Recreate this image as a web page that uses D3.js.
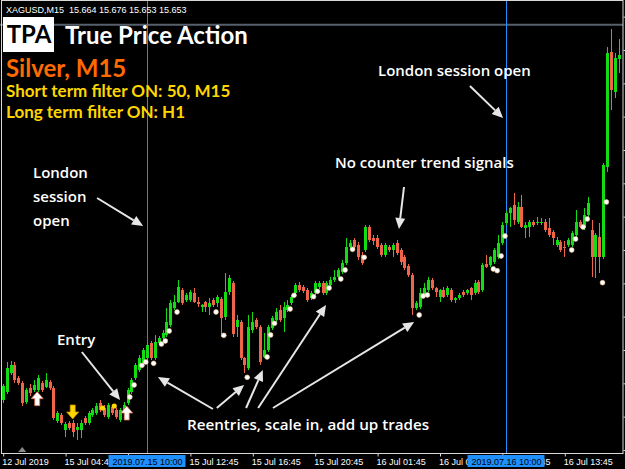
<!DOCTYPE html>
<html>
<head>
<meta charset="utf-8">
<script src="https://cdn.jsdelivr.net/npm/d3@7"></script>
<style>
  html, body { margin: 0; padding: 0; background: #000; }
  svg { display: block; }
</style>
</head>
<body>
<svg id="chart"></svg>
<script>
// XAGUSD M15 candles, one entry per bar (bar 0 = 12 Jul 2019 label)
const opens = [15.145,15.157,15.1855,15.1975,15.178,15.1705,15.142,15.163,15.16,15.16,15.1705,15.1645,15.172,15.163,15.1135,15.1225,15.10,15.1105,15.1105,15.10,
15.10,15.118,15.1105,15.1225,15.1255,15.1405,15.133,15.1195,15.1345,15.13,15.115,15.13,15.1405,15.157,15.178,15.19,15.2005,15.208,15.2305,15.208,
15.2305,15.238,15.2425,15.2575,15.283,15.292,15.31,15.295,15.295,15.3055,15.292,15.2845,15.292,15.2845,15.295,15.2905,15.2965,15.2695,15.307,15.3205,
15.2545,15.262,15.208,15.193,15.25,15.265,15.2545,15.2095,15.22,15.253,15.265,15.28,15.268,15.28,15.2905,15.3055,15.3175,15.3145,15.31,15.298,
15.3055,15.3145,15.3205,15.3055,15.3175,15.325,15.3295,15.337,15.3505,15.3745,15.385,15.3775,15.3625,15.37,15.4045,15.388,15.388,15.3775,15.3625,15.3745,
15.37,15.3805,15.37,15.3595,15.346,15.3325,15.283,15.2845,15.3025,15.31,15.325,15.313,15.2995,15.31,15.3025,15.31,15.295,15.298,15.307,15.3055,
15.313,15.3055,15.322,15.31,15.349,15.3475,15.352,15.3595,15.3805,15.4105,15.4255,15.4375,15.412,15.4345,15.403,15.4045,15.412,15.4105,15.4105,15.412,
15.403,15.397,15.3775,15.382,15.3745,15.3775,15.3775,15.3925,15.412,15.403,15.4225,15.40,15.3595,15.3895,15.3595,15.4945,15.667,15.607,15.6565];
const highs = [15.169,15.202,15.2035,15.202,15.181,15.1735,15.163,15.169,15.175,15.1825,15.1735,15.1855,15.175,15.166,15.1285,15.1255,15.112,15.1135,15.115,15.1105,
15.115,15.121,15.1285,15.133,15.1405,15.145,15.1375,15.1405,15.1375,15.133,15.133,15.142,15.163,15.178,15.2005,15.2125,15.223,15.232,15.2335,15.2425,
15.241,15.25,15.283,15.295,15.3025,15.325,15.313,15.3055,15.31,15.313,15.2995,15.289,15.2935,15.298,15.298,15.3025,15.2995,15.3355,15.3325,15.3235,
15.2725,15.265,15.2095,15.2725,15.277,15.268,15.2575,15.2455,15.2575,15.271,15.283,15.2875,15.292,15.295,15.3025,15.3205,15.322,15.3175,15.313,15.3085,
15.3235,15.3235,15.3235,15.3235,15.3295,15.34,15.343,15.355,15.388,15.385,15.388,15.382,15.367,15.4075,15.4075,15.3925,15.3925,15.3805,15.3805,15.3775,
15.3805,15.385,15.373,15.3625,15.349,15.3355,15.2935,15.313,15.3205,15.3295,15.328,15.3145,15.3115,15.3145,15.316,15.313,15.2995,15.3055,15.31,15.3115,
15.3145,15.325,15.325,15.3505,15.3625,15.361,15.373,15.3925,15.412,15.4285,15.4345,15.4555,15.442,15.4525,15.412,15.415,15.415,15.4195,15.418,15.4165,
15.418,15.40,15.3895,15.385,15.3835,15.388,15.3985,15.43,15.415,15.433,15.4495,15.415,15.3955,15.4105,15.5005,15.6745,15.7015,15.6655,15.6865];
const lows = [15.1405,15.154,15.1825,15.1705,15.1675,15.136,15.139,15.151,15.157,15.157,15.157,15.163,15.16,15.115,15.1105,15.1075,15.0895,15.10,15.0895,15.085,
15.088,15.1075,15.1075,15.1195,15.1225,15.127,15.1195,15.1165,15.1225,15.1165,15.112,15.127,15.1375,15.154,15.175,15.187,15.1975,15.205,15.205,15.205,
15.2275,15.235,15.2395,15.2545,15.28,15.2905,15.2875,15.292,15.292,15.2905,15.2845,15.277,15.277,15.2725,15.2845,15.2845,15.2395,15.265,15.3025,15.2395,
15.2395,15.205,15.1855,15.19,15.2455,15.2515,15.1975,15.208,15.217,15.25,15.262,15.262,15.247,15.277,15.2875,15.3025,15.307,15.3055,15.292,15.295,
15.3025,15.3115,15.3025,15.3025,15.3145,15.322,15.3265,15.334,15.3475,15.37,15.3715,15.355,15.3475,15.367,15.382,15.3775,15.3715,15.3595,15.3595,15.367,
15.3595,15.3625,15.3475,15.34,15.3295,15.2725,15.28,15.2815,15.2995,15.307,15.31,15.2995,15.292,15.298,15.2995,15.292,15.2905,15.295,15.2995,15.3025,
15.295,15.3025,15.304,15.307,15.343,15.3445,15.349,15.3565,15.3775,15.4075,15.4045,15.4075,15.409,15.403,15.388,15.3895,15.4045,15.4075,15.4075,15.397,
15.3895,15.3775,15.3745,15.367,15.3595,15.3745,15.3745,15.3895,15.403,15.40,15.4195,15.3295,15.328,15.3355,15.3565,15.487,15.58,15.598,15.6355];
const closes = [15.166,15.193,15.1975,15.175,15.1705,15.1405,15.16,15.1555,15.1675,15.178,15.16,15.175,15.163,15.118,15.1255,15.1105,15.109,15.103,15.097,15.1045,
15.1105,15.1105,15.1255,15.13,15.136,15.13,15.1225,15.1375,15.1255,15.1195,15.13,15.1375,15.16,15.175,15.1975,15.208,15.22,15.2275,15.208,15.232,
15.238,15.2455,15.262,15.2905,15.292,15.3145,15.2905,15.3025,15.307,15.292,15.289,15.2875,15.2845,15.2905,15.2875,15.2995,15.268,15.307,15.328,15.244,
15.265,15.208,15.1975,15.2545,15.262,15.2545,15.202,15.22,15.2545,15.268,15.277,15.265,15.2845,15.2875,15.2995,15.3175,15.31,15.3085,15.295,15.3055,
15.3205,15.3205,15.3055,15.3205,15.325,15.3295,15.34,15.3505,15.3745,15.3805,15.3745,15.3595,15.3505,15.4045,15.385,15.3835,15.3745,15.3625,15.3775,15.37,
15.3775,15.3655,15.352,15.343,15.3325,15.283,15.2905,15.3055,15.313,15.325,15.313,15.307,15.31,15.2995,15.313,15.295,15.298,15.3025,15.3025,15.31,
15.3025,15.3205,15.307,15.3475,15.3445,15.3595,15.37,15.3805,15.4075,15.4255,15.433,15.415,15.4345,15.4045,15.4075,15.412,15.4075,15.412,15.412,15.40,
15.3925,15.388,15.385,15.37,15.373,15.385,15.3955,15.412,15.4045,15.4225,15.4405,15.3595,15.3925,15.3595,15.4975,15.6655,15.61,15.658,15.6625];

// time axis
const tickBars = [0, 16, 32, 48, 64, 80, 96, 112, 128, 144];
const tickLabels = ["12 Jul 2019", "15 Jul 04:45", "15 Jul 08:45", "15 Jul 12:45", "15 Jul 16:45",
                    "15 Jul 20:45", "16 Jul 01:45", "16 Jul 05:45", "16 Jul 09:45", "16 Jul 13:45"];
const priceTicks = [15.72, 15.67, 15.62, 15.57, 15.52, 15.47, 15.42, 15.37, 15.32, 15.27, 15.22, 15.17, 15.12, 15.07];

// London session open lines
const sessionBars = [37, 129];
const sessionLabels = ["2019.07.15 10:00", "2019.07.16 10:00"];
const levelPrice = 15.708;

// signals
const dotBars = [32.6,33.7,35.7,36.7,38.7,40.7,41.7,42.7,44.7,54.7,56.7,62.7,67.8,68.7,69.7,73.7,74.7,79.7,80.7,83.7,
                 86.7,87.8,89.7,92.7,106.8,107.8,108.9,125.8,126.8,127.8,128.8,145.9,146.9,148.8,149.9,153.8,154.8];
const dotPrices = [15.1495,15.1675,15.197,15.202,15.200,15.229,15.2335,15.2485,15.277,15.277,15.242,15.179,15.2095,15.2425,15.260,15.2815,15.302,15.300,15.308,15.313,
                   15.3265,15.340,15.371,15.359,15.2725,15.301,15.3025,15.3415,15.339,15.361,15.391,15.370,15.3865,15.4045,15.4165,15.321,15.442];
const yellowDotBars = [25.6, 28.6];
const yellowDotPrices = [15.133, 15.136];
const upArrowBars = [8.85, 31.8];
const upArrowPrices = [15.1575, 15.136];
const downArrowBars = [17.95];
const downArrowPrices = [15.1165];

const symbol = "XAGUSD,M15";
const lastBar = [15.664, 15.676, 15.653, 15.653];

class CandleChart {

  constructor(_config) {
    this.config = {
      parentElement: _config.parentElement,
      containerWidth: _config.containerWidth || 625,
      containerHeight: _config.containerHeight || 469,
      plotBottom: 453,
      plotRight: 623
    };
    this.initVis();
  }

  initVis() {
    let vis = this;
    const W = vis.config.containerWidth, H = vis.config.containerHeight;

    vis.svg = d3.select(vis.config.parentElement)
        .attr('width', W)
        .attr('height', H);

    vis.svg.append('rect').attr('width', W).attr('height', H).attr('fill', '#000');

    vis.xScale = d3.scaleLinear()
        .domain([0, closes.length - 1])
        .range([2.7, 2.7 + (closes.length - 1) * 3.9]);

    vis.yScale = d3.scaleLinear()
        .domain([15.0655, 15.7405])
        .range([vis.config.plotBottom, 3]);

    const up = '#12dc12', down = '#f0644a';
    const bars = d3.range(closes.length);
    const px = i => Math.round(vis.xScale(i));

    // horizontal level line
    vis.svg.append('line')
        .attr('x1', 0).attr('x2', vis.config.plotRight)
        .attr('y1', vis.yScale(levelPrice)).attr('y2', vis.yScale(levelPrice))
        .attr('stroke', '#56606c').attr('stroke-width', 2);

    // session lines
    vis.svg.selectAll('.session')
      .data(sessionBars)
      .join('line')
        .attr('shape-rendering', 'crispEdges')
        .attr('x1', d => px(d) + 0.5).attr('x2', d => px(d) + 0.5)
        .attr('y1', 0).attr('y2', vis.config.plotBottom)
        .attr('stroke', (d, i) => i === 0 ? '#2f86e0' : '#1e90ff')
        .attr('stroke-width', 1);

    // candles
    vis.chart = vis.svg.append('g').attr('shape-rendering', 'crispEdges');
    vis.chart.selectAll('.wick')
      .data(bars)
      .join('line')
        .attr('x1', i => px(i) + 0.5).attr('x2', i => px(i) + 0.5)
        .attr('y1', i => vis.yScale(highs[i])).attr('y2', i => vis.yScale(lows[i]))
        .attr('stroke', i => closes[i] >= opens[i] ? up : down);

    vis.chart.selectAll('.body')
      .data(bars)
      .join('rect')
        .attr('x', i => px(i) - 1)
        .attr('width', 3)
        .attr('y', i => vis.yScale(Math.max(opens[i], closes[i])))
        .attr('height', i => Math.max(1, Math.abs(vis.yScale(opens[i]) - vis.yScale(closes[i]))))
        .attr('fill', i => closes[i] >= opens[i] ? up : down);

    // signal dots
    vis.svg.selectAll('.dot')
      .data(dotBars)
      .join('circle')
        .attr('cx', d => vis.xScale(d))
        .attr('cy', (d, i) => vis.yScale(dotPrices[i]))
        .attr('r', 2.4)
        .attr('fill', '#ffffff')
        .attr('stroke', '#f6c9a0').attr('stroke-width', 0.6);

    vis.svg.selectAll('.ydot')
      .data(yellowDotBars)
      .join('circle')
        .attr('cx', d => vis.xScale(d))
        .attr('cy', (d, i) => vis.yScale(yellowDotPrices[i]))
        .attr('r', 2.6)
        .attr('fill', '#ffd700');

    // signal arrows
    vis.svg.selectAll('.uparrow')
      .data(upArrowBars)
      .join('path')
        .attr('d', (d, i) => {
          const x = vis.xScale(d), y = vis.yScale(upArrowPrices[i]);
          return `M${x},${y}l6,7h-3.5v7h-5v-7h-3.5Z`;
        })
        .attr('fill', '#ffffff').attr('stroke', '#e4704c').attr('stroke-width', 0.8);

    vis.svg.selectAll('.downarrow')
      .data(downArrowBars)
      .join('path')
        .attr('d', (d, i) => {
          const x = vis.xScale(d), y = vis.yScale(downArrowPrices[i]);
          return `M${x},${y}l6,-7h-3.5v-7h-5v7h-3.5Z`;
        })
        .attr('fill', '#ffd700').attr('stroke', '#c99000').attr('stroke-width', 0.8);

    // annotation arrows (tail -> tip, in bar / price units)
    const notes = [
      [[24.2, 15.448], [36.0, 15.406]],
      [[20.3, 15.217], [30.1, 15.145]],
      [[53.9, 15.1315], [39.8, 15.1795]],
      [[54.9, 15.133], [61.9, 15.1675]],
      [[62.4, 15.133], [66.7, 15.19]],
      [[65.5, 15.133], [82.9, 15.2875]],
      [[69.3, 15.133], [105.5, 15.262]],
      [[102.9, 15.4645], [101.6, 15.4015]],
      [[119.8, 15.616], [128.3, 15.568]]
    ];
    const ann = vis.svg.append('g');
    notes.forEach(n => {
      const x1 = vis.xScale(n[0][0]), y1 = vis.yScale(n[0][1]);
      const x2 = vis.xScale(n[1][0]), y2 = vis.yScale(n[1][1]);
      const a = Math.atan2(y2 - y1, x2 - x1);
      const len = 11, half = 5;
      const bx = x2 - len * Math.cos(a), by = y2 - len * Math.sin(a);
      const ox = -Math.sin(a) * half, oy = Math.cos(a) * half;
      ann.append('line')
          .attr('x1', x1).attr('y1', y1).attr('x2', bx).attr('y2', by)
          .attr('stroke', '#e6e6e6').attr('stroke-width', 2);
      ann.append('path')
          .attr('d', `M${x2},${y2}L${bx + ox},${by + oy}L${bx - ox},${by - oy}Z`)
          .attr('fill', '#e6e6e6');
    });

    // annotation texts
    const label = (txt, x, y, size, color, weight, font) =>
      vis.svg.append('text')
          .attr('x', x).attr('y', y)
          .attr('fill', color)
          .style('font-family', font || "'Open Sans', sans-serif")
          .style('font-size', size + 'px')
          .style('font-weight', weight || 600)
          .text(txt);

    label('London', 33, 178, 15, '#ffffff');
    label('session', 33, 202, 15, '#ffffff');
    label('open', 33, 226, 15, '#ffffff');
    label('Entry', 57, 345, 15, '#ffffff');
    label('No counter trend signals', 335, 168, 15, '#ffffff');
    label('London session open', 378, 76, 15, '#ffffff');
    label('Reentries, scale in, add up trades', 187, 430, 15.2, '#ffffff');

    // title block
    const lato = "Lato, 'Open Sans', sans-serif";
    vis.svg.append('rect')
        .attr('x', 3).attr('y', 17).attr('width', 51).attr('height', 35)
        .attr('fill', '#ffffff');
    label('TPA', 29, 43, 24, '#000000', 700, lato).attr('text-anchor', 'middle');
    label('True Price Action', 65, 44, 24, '#ffffff', 700, lato);
    label('Silver, M15', 6, 77, 24, '#ff6a00', 700, lato);
    label('Short term filter ON: 50, M15', 6, 97, 17, '#ffd700', 700, lato);
    label('Long term filter ON: H1', 6, 118, 17, '#ffd700', 700, lato);

    vis.svg.append('text')
        .attr('x', 6).attr('y', 13)
        .attr('fill', '#ffffff')
        .style('white-space', 'pre')
        .style('font-family', "'Liberation Sans', Arial, sans-serif")
        .style('font-size', '9px')
        .text(symbol + '  ' + lastBar.map(d => d.toFixed(3)).join(' '));

    // frame
    vis.svg.append('rect')
        .attr('x', 1.5).attr('y', 0.5)
        .attr('width', vis.config.plotRight - 1.5).attr('height', vis.config.plotBottom)
        .attr('fill', 'none').attr('stroke', '#d8d8d8').attr('stroke-width', 1);

    // right price ticks (labels fall outside the picture)
    vis.yAxisG = vis.svg.append('g')
        .attr('transform', `translate(${vis.config.plotRight + 0.5},0)`)
        .call(d3.axisRight(vis.yScale).tickValues(priceTicks).tickSize(3).tickFormat(''));
    vis.yAxisG.select('.domain').remove();
    vis.yAxisG.selectAll('line').attr('stroke', '#d8d8d8');

    // time axis
    vis.xAxisG = vis.svg.append('g')
        .attr('transform', `translate(0,${vis.config.plotBottom + 0.5})`)
        .call(d3.axisBottom(vis.xScale)
          .tickValues(tickBars)
          .tickFormat((d, i) => tickLabels[i])
          .tickSize(3).tickSizeOuter(0));
    vis.xAxisG.select('.domain').remove();
    vis.xAxisG.selectAll('line')
        .attr('stroke', '#d8d8d8')
        .attr('transform', 'translate(0.5,0)');
    vis.xAxisG.selectAll('text')
        .attr('fill', '#ffffff')
        .attr('text-anchor', 'start')
        .attr('x', -1).attr('y', 5).attr('dy', '0.71em')
        .style('font-family', "'Liberation Sans', Arial, sans-serif")
        .style('font-size', '9px');

    // highlighted session times on the axis (they cover the tick labels under them)
    const tag = vis.svg.selectAll('.tag')
      .data(sessionBars)
      .join('g')
        .attr('transform', d => `translate(${px(d) + 0.5},${vis.config.plotBottom + 2})`);
    tag.append('rect')
        .attr('x', -39).attr('y', 0).attr('width', 77).attr('height', 12)
        .attr('fill', '#1e90ff');
    tag.append('text')
        .attr('x', 0).attr('y', 10)
        .attr('text-anchor', 'middle')
        .attr('fill', '#000000')
        .style('font-family', "'Liberation Sans', Arial, sans-serif")
        .style('font-size', '9px')
        .text((d, i) => sessionLabels[i]);

    // small chart-shift marker on the axis
    vis.svg.append('path')
        .attr('d', `M${vis.xScale(5)},${vis.config.plotBottom - 6}l4,5h-8Z`)
        .attr('fill', '#8a8a8a');
  }
}

new CandleChart({ parentElement: '#chart', containerWidth: 625, containerHeight: 469 });
</script>
</body>
</html>
